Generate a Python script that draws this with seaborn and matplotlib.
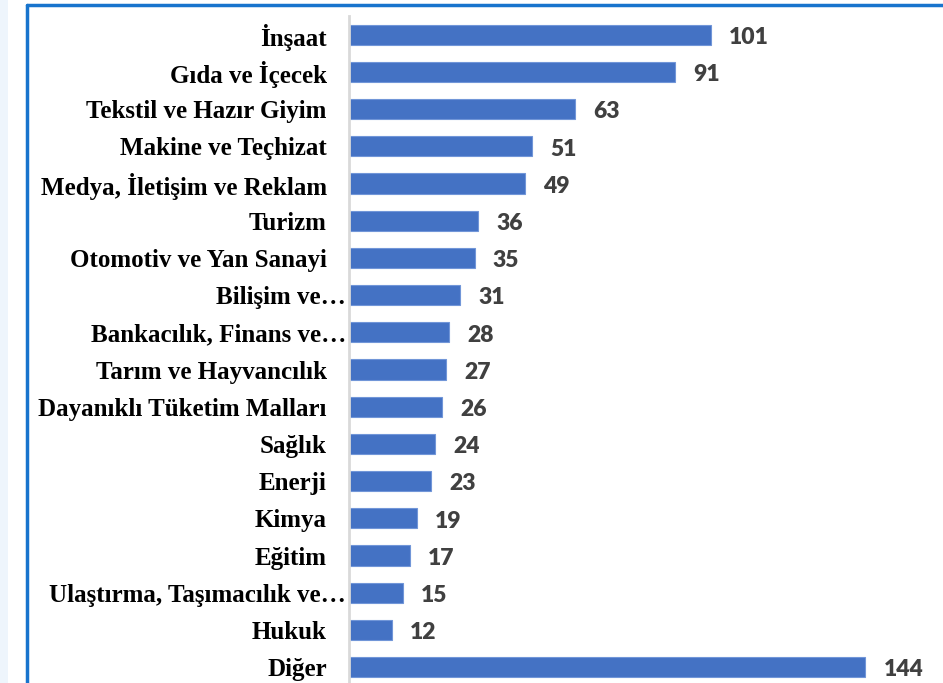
import matplotlib
matplotlib.use("Agg")
import matplotlib.pyplot as plt
import matplotlib.transforms as mtransforms
from matplotlib.patches import Rectangle
from matplotlib.lines import Line2D
import seaborn as sns
import pandas as pd

# Veriler
sektorler = ['İnşaat', 'Gıda ve İçecek', 'Tekstil ve Hazır Giyim', 'Makine ve Teçhizat',
             'Medya, İletişim ve Reklam', 'Turizm', 'Otomotiv ve Yan Sanayi', 'Bilişim ve…',
             'Bankacılık, Finans ve…', 'Tarım ve Hayvancılık', 'Dayanıklı Tüketim Malları',
             'Sağlık', 'Enerji', 'Kimya', 'Eğitim', 'Ulaştırma, Taşımacılık ve…', 'Hukuk', 'Diğer']
degerler = [101, 91, 63, 51, 49, 36, 35, 31, 28, 27, 26, 24, 23, 19, 17, 15, 12, 144]

df = pd.DataFrame({'sektor': sektorler, 'deger': degerler})

sns.set_style('white')

fig = plt.figure(figsize=(9.43, 6.83), dpi=100)
ax = fig.add_axes([349 / 943, -0.004, 538 / 943, 0.9804])

sns.barplot(data=df, x='deger', y='sektor', orient='h', color='#4472C4',
            saturation=1, width=0.54, edgecolor='#7196d8', linewidth=0.8, ax=ax)

ax.set_xlim(0, 150)
ax.set_ylim(len(sektorler) - 0.5, -0.5)
ax.set_xlabel('')
ax.set_ylabel('')
ax.set_xticks([])

for s in ['top', 'right', 'bottom']:
    ax.spines[s].set_visible(False)
ax.spines['left'].set_color('#d9d9d9')
ax.spines['left'].set_linewidth(2)

ax.tick_params(axis='y', length=0, pad=16)
for lbl in ax.get_yticklabels():
    lbl.set_fontfamily('Liberation Serif')
    lbl.set_fontweight('bold')
    lbl.set_fontsize(18)
    lbl.set_color('#000000')
    if lbl.get_text().endswith('…'):
        lbl.set_transform(lbl.get_transform() +
                          mtransforms.ScaledTranslation(14 / 72, 0, fig.dpi_scale_trans))

# Değer etiketleri
for cont in ax.containers:
    texts = ax.bar_label(cont, labels=[str(v) for v in degerler], padding=13,
                         fontsize=16.5, fontweight='heavy', fontfamily='Lato', color='#404040')
    for t in texts:
        t.xyann = (13, -2)

# Çerçeve (kırpılmış grafik kenarı)
fig.patches.append(Rectangle((0, 0), 8 / 943, 1, transform=fig.transFigure,
                             facecolor='#eef5fc', edgecolor='none', zorder=0))
fig.lines.append(Line2D([27 / 943, 27 / 943], [0, 1 - 5 / 683], transform=fig.transFigure,
                        color='#1874CD', linewidth=2.5))
fig.lines.append(Line2D([27 / 943, 1], [1 - 5 / 683, 1 - 5 / 683], transform=fig.transFigure,
                        color='#1874CD', linewidth=2.5))

fig.savefig('out.png', dpi=100)
